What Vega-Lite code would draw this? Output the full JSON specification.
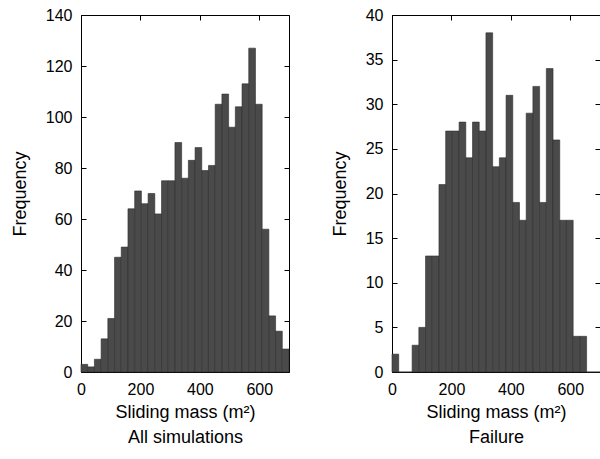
{
  "$schema": "https://vega.github.io/schema/vega-lite/v6.json",
  "padding": {"left": 10, "top": 6, "right": 0, "bottom": 0},
  "background": "white",
  "spacing": 103,
  "bounds": "flush",
  "config": {
    "view": {"stroke": "black", "strokeWidth": 1},
    "font": "Liberation Sans",
    "axis": {
      "grid": false,
      "domain": false,
      "tickSize": -5,
      "tickColor": "black",
      "labelColor": "black",
      "titleColor": "black",
      "labelFont": "Liberation Sans",
      "titleFont": "Liberation Sans",
      "labelFontSize": 16,
      "titleFontSize": 18,
      "titleFontWeight": "normal",
      "labelFlush": false
    }
  },
  "datasets": {
    "all": [
      {"bin_start": 0, "bin_end": 22.58, "count": 3},
      {"bin_start": 22.58, "bin_end": 45.16, "count": 2},
      {"bin_start": 45.16, "bin_end": 67.74, "count": 5},
      {"bin_start": 67.74, "bin_end": 90.32, "count": 13},
      {"bin_start": 90.32, "bin_end": 112.9, "count": 21},
      {"bin_start": 112.9, "bin_end": 135.48, "count": 45},
      {"bin_start": 135.48, "bin_end": 158.06, "count": 49},
      {"bin_start": 158.06, "bin_end": 180.65, "count": 64},
      {"bin_start": 180.65, "bin_end": 203.23, "count": 71},
      {"bin_start": 203.23, "bin_end": 225.81, "count": 66},
      {"bin_start": 225.81, "bin_end": 248.39, "count": 70},
      {"bin_start": 248.39, "bin_end": 270.97, "count": 62},
      {"bin_start": 270.97, "bin_end": 293.55, "count": 75},
      {"bin_start": 293.55, "bin_end": 316.13, "count": 75},
      {"bin_start": 316.13, "bin_end": 338.71, "count": 90},
      {"bin_start": 338.71, "bin_end": 361.29, "count": 76},
      {"bin_start": 361.29, "bin_end": 383.87, "count": 83},
      {"bin_start": 383.87, "bin_end": 406.45, "count": 88},
      {"bin_start": 406.45, "bin_end": 429.03, "count": 79},
      {"bin_start": 429.03, "bin_end": 451.61, "count": 81},
      {"bin_start": 451.61, "bin_end": 474.19, "count": 105},
      {"bin_start": 474.19, "bin_end": 496.77, "count": 109},
      {"bin_start": 496.77, "bin_end": 519.35, "count": 96},
      {"bin_start": 519.35, "bin_end": 541.94, "count": 104},
      {"bin_start": 541.94, "bin_end": 564.52, "count": 113},
      {"bin_start": 564.52, "bin_end": 587.1, "count": 127},
      {"bin_start": 587.1, "bin_end": 609.68, "count": 105},
      {"bin_start": 609.68, "bin_end": 632.26, "count": 56},
      {"bin_start": 632.26, "bin_end": 654.84, "count": 22},
      {"bin_start": 654.84, "bin_end": 677.42, "count": 16},
      {"bin_start": 677.42, "bin_end": 700, "count": 9}
    ],
    "failure": [
      {"bin_start": 0, "bin_end": 22.58, "count": 2},
      {"bin_start": 22.58, "bin_end": 45.16, "count": 0},
      {"bin_start": 45.16, "bin_end": 67.74, "count": 0},
      {"bin_start": 67.74, "bin_end": 90.32, "count": 3},
      {"bin_start": 90.32, "bin_end": 112.9, "count": 5},
      {"bin_start": 112.9, "bin_end": 135.48, "count": 13},
      {"bin_start": 135.48, "bin_end": 158.06, "count": 13},
      {"bin_start": 158.06, "bin_end": 180.65, "count": 21},
      {"bin_start": 180.65, "bin_end": 203.23, "count": 27},
      {"bin_start": 203.23, "bin_end": 225.81, "count": 27},
      {"bin_start": 225.81, "bin_end": 248.39, "count": 28},
      {"bin_start": 248.39, "bin_end": 270.97, "count": 24},
      {"bin_start": 270.97, "bin_end": 293.55, "count": 28},
      {"bin_start": 293.55, "bin_end": 316.13, "count": 27},
      {"bin_start": 316.13, "bin_end": 338.71, "count": 38},
      {"bin_start": 338.71, "bin_end": 361.29, "count": 23},
      {"bin_start": 361.29, "bin_end": 383.87, "count": 24},
      {"bin_start": 383.87, "bin_end": 406.45, "count": 31},
      {"bin_start": 406.45, "bin_end": 429.03, "count": 19},
      {"bin_start": 429.03, "bin_end": 451.61, "count": 17},
      {"bin_start": 451.61, "bin_end": 474.19, "count": 29},
      {"bin_start": 474.19, "bin_end": 496.77, "count": 32},
      {"bin_start": 496.77, "bin_end": 519.35, "count": 19},
      {"bin_start": 519.35, "bin_end": 541.94, "count": 34},
      {"bin_start": 541.94, "bin_end": 564.52, "count": 26},
      {"bin_start": 564.52, "bin_end": 587.1, "count": 17},
      {"bin_start": 587.1, "bin_end": 609.68, "count": 17},
      {"bin_start": 609.68, "bin_end": 632.26, "count": 4},
      {"bin_start": 632.26, "bin_end": 654.84, "count": 4},
      {"bin_start": 654.84, "bin_end": 677.42, "count": 0},
      {"bin_start": 677.42, "bin_end": 700, "count": 0}
    ]
  },
  "hconcat": [
    {
      "width": 208,
      "height": 357,
      "data": {"name": "all"},
      "layer": [
        {
          "mark": {"type": "bar", "fill": "#4a4a4a", "stroke": "#2e2e2e", "strokeWidth": 0.6},
          "encoding": {
            "x": {"field": "bin_start", "type": "quantitative",
                  "scale": {"domain": [0, 700], "nice": false},
                  "axis": {"orient": "bottom", "values": [0, 200, 400, 600], "labelPadding": 14,
                           "title": ["Sliding mass (m²)", "All simulations"], "titlePadding": 6, "titleLineHeight": 25}},
            "x2": {"field": "bin_end"},
            "y": {"field": "count", "type": "quantitative",
                  "scale": {"domain": [0, 140], "nice": false},
                  "axis": {"orient": "left", "values": [0, 20, 40, 60, 80, 100, 120, 140], "labelPadding": 14,
                           "title": "Frequency", "titlePadding": 16}},
            "y2": {"datum": 0}
          }
        },
        {
          "mark": {"type": "bar", "opacity": 0},
          "encoding": {
            "x": {"field": "bin_start", "type": "quantitative",
                  "axis": {"orient": "top", "values": [0, 200, 400, 600], "labels": false, "title": null}},
            "x2": {"field": "bin_end"},
            "y": {"field": "count", "type": "quantitative",
                  "axis": {"orient": "right", "values": [0, 20, 40, 60, 80, 100, 120, 140], "labels": false, "title": null}},
            "y2": {"datum": 0}
          }
        }
      ]
    },
    {
      "width": 208,
      "height": 357,
      "data": {"name": "failure"},
      "layer": [
        {
          "mark": {"type": "bar", "fill": "#4a4a4a", "stroke": "#2e2e2e", "strokeWidth": 0.6},
          "encoding": {
            "x": {"field": "bin_start", "type": "quantitative",
                  "scale": {"domain": [0, 700], "nice": false},
                  "axis": {"orient": "bottom", "values": [0, 200, 400, 600], "labelPadding": 14,
                           "title": ["Sliding mass (m²)", "Failure"], "titlePadding": 6, "titleLineHeight": 25}},
            "x2": {"field": "bin_end"},
            "y": {"field": "count", "type": "quantitative",
                  "scale": {"domain": [0, 40], "nice": false},
                  "axis": {"orient": "left", "values": [0, 5, 10, 15, 20, 25, 30, 35, 40], "labelPadding": 14,
                           "title": "Frequency", "titlePadding": 16}},
            "y2": {"datum": 0}
          }
        },
        {
          "mark": {"type": "bar", "opacity": 0},
          "encoding": {
            "x": {"field": "bin_start", "type": "quantitative",
                  "axis": {"orient": "top", "values": [0, 200, 400, 600], "labels": false, "title": null}},
            "x2": {"field": "bin_end"},
            "y": {"field": "count", "type": "quantitative",
                  "axis": {"orient": "right", "values": [0, 5, 10, 15, 20, 25, 30, 35, 40], "labels": false, "title": null}},
            "y2": {"datum": 0}
          }
        }
      ]
    }
  ]
}
